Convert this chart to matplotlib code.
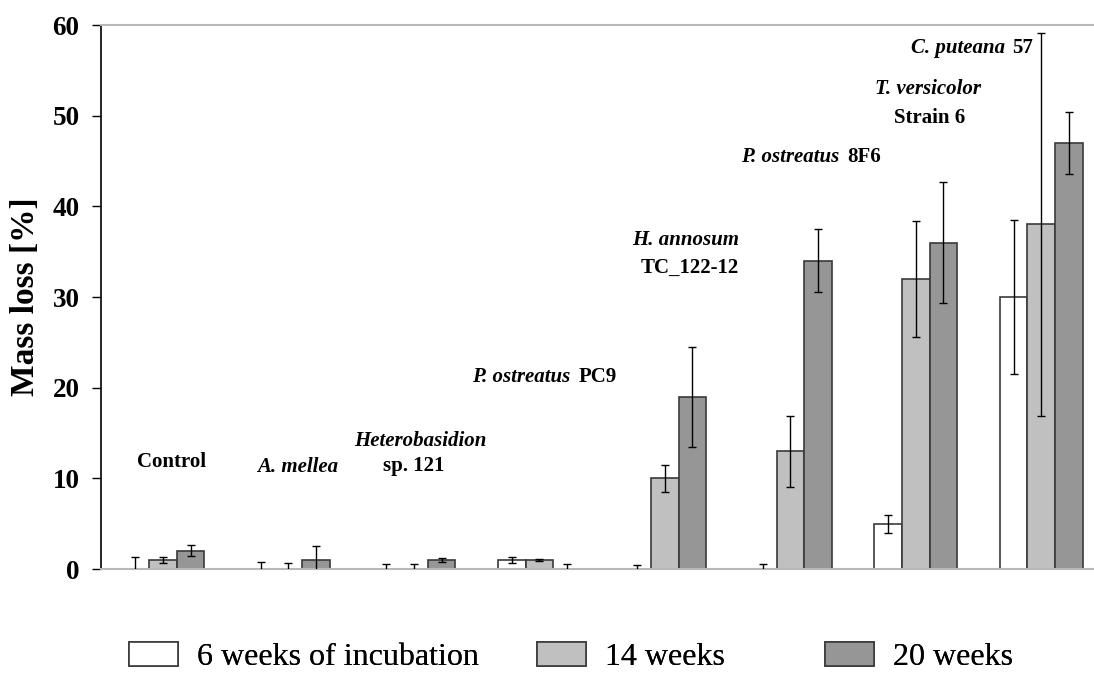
import numpy as np
import matplotlib.pyplot as plt
from matplotlib.patches import Patch

# Data (mass loss in %, mean and error)
groups = ["Control", "A. mellea", "Heterobasidion sp. 121", "P. ostreatus PC9",
          "H. annosum TC_122-12", "P. ostreatus 8F6", "T. versicolor Strain 6",
          "C. puteana 57"]
series = ["6 weeks of incubation", "14 weeks", "20 weeks"]
w6 = [0, 0, 0, 1, 0, 0, 5, 30]
w14 = [1, 0, 0, 1, 10, 13, 32, 38]
w20 = [2, 1, 1, 0, 19, 34, 36, 47]
err6 = [1.3, 0.8, 0.5, 0.3, 0.4, 0.5, 1.0, 8.5]
err14 = [0.3, 0.7, 0.6, 0.1, 1.45, 3.9, 6.4, 21.1]
err20 = [0.6, 1.5, 0.2, 0.5, 5.5, 3.5, 6.7, 3.4]

plt.rcParams['font.family'] = ['Liberation Serif', 'DejaVu Serif']

fig = plt.figure(figsize=(10.94, 6.73), dpi=100)
ax = fig.add_axes([0.0923, 0.1545, 0.9077, 0.8083])

x = np.arange(len(groups))
width = 0.22
colors = ['white', '#c0c0c0', '#969696']
for i, (vals, errs) in enumerate([(w6, err6), (w14, err14), (w20, err20)]):
    pos = x + (i - 1) * width
    ax.bar(pos, vals, width, color=colors[i], edgecolor='#3a3a3a', linewidth=1.2,
           zorder=2)
    ax.errorbar(pos, vals, yerr=errs, fmt='none', ecolor='black', elinewidth=1,
                capsize=2.8, capthick=1, zorder=3)

ax.set_xlim(-0.494, 7.42)
ax.set_ylim(0, 60)
ax.set_yticks([0, 10, 20, 30, 40, 50, 60])
ax.set_xticks([])
ax.tick_params(axis='y', direction='out', length=6.5, width=1, labelsize=19.5, pad=9)
for lbl in ax.get_yticklabels():
    lbl.set_fontweight('bold')
ax.set_ylabel("Mass loss [%]", fontsize=24, fontweight='bold', labelpad=8)

ax.spines['right'].set_visible(False)
ax.spines['top'].set_color('#b8b8b8')
ax.spines['top'].set_linewidth(1.5)
ax.spines['bottom'].set_color('#b8b8b8')
ax.spines['bottom'].set_linewidth(1.5)
ax.spines['left'].set_linewidth(1.2)

# group labels (species in italics, strain in bold upright)
fs = 15
kw = dict(fontsize=fs, fontweight='bold', va='center')
ax.text(0.07, 11.8, "Control", ha='center', **kw)
ax.text(1.07, 11.3, "A. mellea", style='italic', ha='center', **kw)
ax.text(2.05, 14.1, "Heterobasidion", style='italic', ha='center', **kw)
ax.text(2.0, 11.4, "sp. 121", ha='center', **kw)
ax.text(3.25, 21.2, "P. ostreatus", style='italic', ha='right', **kw)
ax.text(3.31, 21.2, "PC9", ha='left', **kw)
ax.text(4.59, 36.3, "H. annosum", style='italic', ha='right', **kw)
ax.text(4.59, 33.2, "TC_122-12", ha='right', **kw)
ax.text(5.39, 45.4, "P. ostreatus", style='italic', ha='right', **kw)
ax.text(5.45, 45.4, "8F6", ha='left', **kw)
ax.text(6.10, 52.9, "T. versicolor", style='italic', ha='center', **kw)
ax.text(6.11, 49.7, "Strain 6", ha='center', **kw)
ax.text(6.71, 57.5, "C. puteana", style='italic', ha='right', **kw)
ax.text(6.77, 57.5, "57", ha='left', **kw)

# legend entries placed like the original (uneven spacing)
lx = [129, 537, 825]
for c, name, px in zip(colors, series, lx):
    h = Patch(facecolor=c, edgecolor='#3a3a3a', linewidth=1.2)
    leg = fig.legend([h], [name], loc='center left',
                     bbox_to_anchor=(px / 1094, 1 - 657 / 673),
                     frameon=False, fontsize=23, handlelength=1.54,
                     handleheight=0.78, handletextpad=0.6, borderpad=0,
                     borderaxespad=0)
    fig.add_artist(leg)

fig.savefig("out.png", dpi=100)
